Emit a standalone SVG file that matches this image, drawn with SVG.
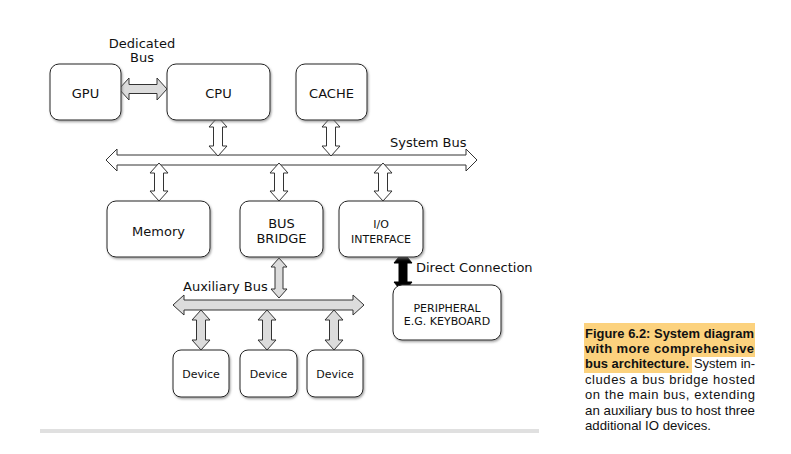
<svg xmlns="http://www.w3.org/2000/svg" width="791" height="454" viewBox="0 0 791 454">
<defs>
<filter id="sh" x="-10%" y="-10%" width="130%" height="130%">
<feDropShadow dx="1" dy="1.5" stdDeviation="0.8" flood-color="#777" flood-opacity="0.7"/>
</filter>
</defs>
<style>
.box{fill:#fff;stroke:#222;stroke-width:1;filter:url(#sh)}
.t{font-family:"DejaVu Sans","Liberation Sans",sans-serif;font-size:13px;fill:#111;text-anchor:middle}
.ts{font-family:"DejaVu Sans","Liberation Sans",sans-serif;font-size:11px;fill:#111;text-anchor:middle}
.tl{font-family:"DejaVu Sans","Liberation Sans",sans-serif;font-size:13px;fill:#111}
.wa{fill:#fff;stroke:#333;stroke-width:1}
.ga{fill:#dcdcdc;stroke:#333;stroke-width:1}
.ba{fill:#000;stroke:#000;stroke-width:1}
.cap{font-family:"Liberation Sans",Arial,sans-serif;font-size:13px;fill:#111}
.capb{font-family:"Liberation Sans",Arial,sans-serif;font-size:13px;fill:#111;font-weight:bold}
</style>
<rect width="791" height="454" fill="#fff"/>

<g id="connectors">
<path id="system-bus" class="wa" d="M106,160 L117,149 L117,155 L466,155 L466,149 L477,160 L466,171 L466,165 L117,165 L117,171 Z"/>
<path id="dedicated-bus" class="ga" d="M119,89 L129,78 L129,84.5 L157,84.5 L157,78 L167,89 L157,100 L157,93.5 L129,93.5 L129,100 Z"/>
<path class="wa" d="M218,117 L227,127 L222.5,127 L222.5,146 L227,146 L218,156 L209,146 L213.5,146 L213.5,127 L209,127 Z"/>
<path class="wa" d="M331,117 L340,127 L335.5,127 L335.5,146 L340,146 L331,156 L322,146 L326.5,146 L326.5,127 L322,127 Z"/>
<path class="wa" d="M159,163 L168,173 L163.5,173 L163.5,191 L168,191 L159,201 L150,191 L154.5,191 L154.5,173 L150,173 Z"/>
<path class="wa" d="M279,163 L288,173 L283.5,173 L283.5,191 L288,191 L279,201 L270,191 L274.5,191 L274.5,173 L270,173 Z"/>
<path class="wa" d="M383,163 L392,173 L387.5,173 L387.5,191 L392,191 L383,201 L374,191 L378.5,191 L378.5,173 L374,173 Z"/>
<path class="ga" d="M279,258 L287,267 L283,267 L283,289 L287,289 L279,298 L271,289 L275,289 L275,267 L271,267 Z"/>
<path id="aux-bus" class="ga" d="M173,305 L184,295 L184,300 L353,300 L353,295 L364,305 L353,315 L353,310 L184,310 L184,315 Z"/>
<path class="ga" d="M201,310 L210,320 L205.5,320 L205.5,340 L210,340 L201,350 L192,340 L196.5,340 L196.5,320 L192,320 Z"/>
<path class="ga" d="M267,310 L276,320 L271.5,320 L271.5,340 L276,340 L267,350 L258,340 L262.5,340 L262.5,320 L258,320 Z"/>
<path class="ga" d="M334,310 L343,320 L338.5,320 L338.5,340 L343,340 L334,350 L325,340 L329.5,340 L329.5,320 L325,320 Z"/>
<path id="direct" class="ba" d="M403,252 L412,263 L407,263 L407,282 L412,282 L403,293 L394,282 L399,282 L399,263 L394,263 Z"/>
<text class="t" x="142" y="48">Dedicated</text>
<text class="t" x="142" y="62">Bus</text>
<text class="tl" x="390" y="147">System Bus</text>
<text class="tl" x="183" y="291">Auxiliary Bus</text>
<text class="tl" x="416" y="272">Direct Connection</text>
</g>

<g id="gpu"><rect class="box" x="50" y="64" width="71" height="56" rx="9"/><text class="t" x="85.5" y="98">GPU</text></g>
<g id="cpu"><rect class="box" x="167" y="64" width="103" height="56" rx="9"/><text class="t" x="218.5" y="98">CPU</text></g>
<g id="cache"><rect class="box" x="296" y="64" width="71" height="56" rx="9"/><text class="t" x="331.5" y="98">CACHE</text></g>
<g id="memory"><rect class="box" x="107" y="201" width="103" height="56" rx="9"/><text class="t" x="158.5" y="236">Memory</text></g>
<g id="bus-bridge"><rect class="box" x="240" y="201" width="83" height="56" rx="9"/><text class="t" x="281.5" y="228">BUS</text><text class="t" x="281.5" y="243">BRIDGE</text></g>
<g id="io-interface"><rect class="box" x="339" y="201" width="84" height="56" rx="9"/><text class="ts" x="381" y="228">I/O</text><text class="ts" x="381" y="243">INTERFACE</text></g>
<g id="peripheral"><rect class="box" x="393" y="285" width="108" height="55" rx="9"/><text class="ts" x="447" y="312">PERIPHERAL</text><text class="ts" x="447" y="325">E.G. KEYBOARD</text></g>
<g id="device1"><rect class="box" x="173" y="350" width="56" height="47" rx="8"/><text class="ts" x="201" y="378">Device</text></g>
<g id="device2"><rect class="box" x="240" y="350" width="57" height="47" rx="8"/><text class="ts" x="268.5" y="378">Device</text></g>
<g id="device3"><rect class="box" x="307" y="350" width="56" height="47" rx="8"/><text class="ts" x="335" y="378">Device</text></g>

<rect x="40" y="429" width="499" height="4" fill="#e0e0e0"/>

<g id="caption">
<rect x="584" y="323" width="171" height="34" fill="#fcd27e"/>
<rect x="584" y="357" width="108" height="16" fill="#fcd27e"/>
<text class="capb" x="585" y="338" textLength="169" lengthAdjust="spacingAndGlyphs">Figure 6.2: System diagram</text>
<text class="capb" x="585" y="353" textLength="169" lengthAdjust="spacing">with more comprehensive</text>
<text class="capb" x="585" y="368" textLength="104" lengthAdjust="spacingAndGlyphs">bus architecture.</text>
<text class="cap" x="694" y="368" textLength="61" lengthAdjust="spacingAndGlyphs">System in-</text>
<text class="cap" x="585" y="384" textLength="170" lengthAdjust="spacing">cludes a bus bridge hosted</text>
<text class="cap" x="585" y="399" textLength="170" lengthAdjust="spacing">on the main bus, extending</text>
<text class="cap" x="585" y="415" textLength="170" lengthAdjust="spacingAndGlyphs">an auxiliary bus to host three</text>
<text class="cap" x="585" y="430" textLength="126" lengthAdjust="spacingAndGlyphs">additional IO devices.</text>
</g>
</svg>
